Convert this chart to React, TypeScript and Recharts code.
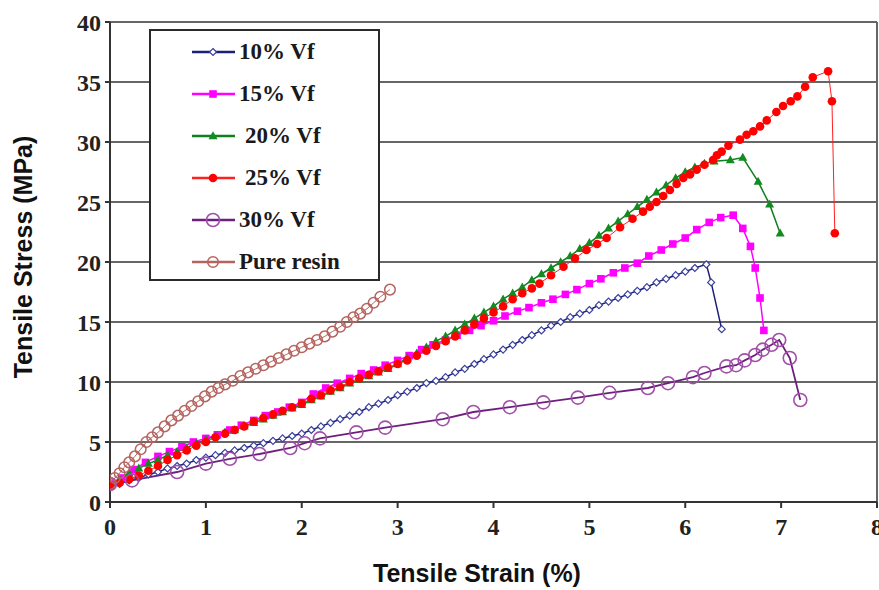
import React from "react"
import { LineChart, Line, XAxis, YAxis, CartesianGrid, Legend, ReferenceLine, Label } from "recharts"

// strain (%) , stress (MPa) pairs
const vf10 = [
  [0, 1.3], [0.1, 1.5], [0.2, 1.8], [0.3, 2.0], [0.4, 2.3], [0.5, 2.5], [0.6, 2.8], [0.7, 3.0],
  [0.8, 3.2], [0.9, 3.5], [1.0, 3.7], [1.1, 3.9], [1.2, 4.1], [1.3, 4.3], [1.4, 4.5], [1.5, 4.7],
  [1.6, 4.9], [1.7, 5.1], [1.8, 5.3], [1.9, 5.5], [2.0, 5.7], [2.1, 6.0], [2.2, 6.3], [2.3, 6.6],
  [2.4, 6.9], [2.5, 7.2], [2.6, 7.5], [2.7, 7.9], [2.8, 8.2], [2.9, 8.5], [3.0, 8.9], [3.1, 9.2],
  [3.2, 9.5], [3.3, 9.9], [3.4, 10.1], [3.5, 10.4], [3.6, 10.8], [3.7, 11.1], [3.8, 11.5],
  [3.9, 11.9], [4.0, 12.3], [4.1, 12.7], [4.2, 13.1], [4.3, 13.5], [4.4, 13.9], [4.5, 14.3],
  [4.6, 14.7], [4.7, 15.0], [4.8, 15.4], [4.9, 15.7], [5.0, 16.0], [5.1, 16.4], [5.2, 16.7],
  [5.3, 17.0], [5.4, 17.3], [5.5, 17.6], [5.6, 17.9], [5.7, 18.3], [5.8, 18.6], [5.9, 18.9],
  [6.0, 19.2], [6.1, 19.5], [6.22, 19.8], [6.27, 18.3], [6.38, 14.4],
]

const vf15 = [
  [0, 1.5], [0.12, 2.0], [0.25, 2.7], [0.37, 3.3], [0.5, 3.8], [0.62, 4.2], [0.75, 4.6], [0.87, 5.0],
  [1.0, 5.3], [1.12, 5.6], [1.25, 6.0], [1.37, 6.4], [1.5, 6.8], [1.62, 7.2], [1.75, 7.5], [1.87, 7.9],
  [2.0, 8.3], [2.12, 9.0], [2.25, 9.5], [2.37, 9.9], [2.5, 10.3], [2.62, 10.7], [2.75, 11.0],
  [2.87, 11.4], [3.0, 11.8], [3.12, 12.2], [3.25, 12.7], [3.37, 13.1], [3.5, 13.5], [3.62, 13.9],
  [3.75, 14.3], [3.87, 14.7], [4.0, 15.1], [4.12, 15.5], [4.25, 15.9], [4.37, 16.2], [4.5, 16.6],
  [4.62, 16.9], [4.75, 17.3], [4.87, 17.7], [5.0, 18.2], [5.12, 18.6], [5.25, 19.1], [5.37, 19.5],
  [5.5, 19.9], [5.62, 20.5], [5.75, 21.0], [5.87, 21.5], [6.0, 22.0], [6.12, 22.7], [6.25, 23.3],
  [6.37, 23.7], [6.5, 23.9], [6.6, 22.8], [6.68, 21.3], [6.73, 19.5], [6.78, 17.0], [6.82, 14.3],
]

const vf20 = [
  [0, 1.4], [0.1, 1.9], [0.2, 2.4], [0.3, 2.8], [0.4, 3.2], [0.5, 3.5], [0.6, 3.9], [0.7, 4.2],
  [0.8, 4.5], [0.9, 4.9], [1.0, 5.2], [1.1, 5.5], [1.2, 5.8], [1.3, 6.0], [1.4, 6.3], [1.5, 6.6],
  [1.6, 6.9], [1.7, 7.2], [1.8, 7.5], [1.9, 7.8], [2.0, 8.1], [2.1, 8.5], [2.2, 8.8], [2.3, 9.2],
  [2.4, 9.5], [2.5, 9.9], [2.6, 10.2], [2.7, 10.5], [2.8, 10.8], [2.9, 11.1], [3.0, 11.5],
  [3.1, 12.0], [3.2, 12.4], [3.3, 12.9], [3.4, 13.4], [3.5, 13.8], [3.6, 14.3], [3.7, 14.8],
  [3.8, 15.3], [3.9, 15.8], [4.0, 16.3], [4.1, 16.9], [4.2, 17.4], [4.3, 17.9], [4.4, 18.5],
  [4.5, 19.0], [4.6, 19.5], [4.7, 20.0], [4.8, 20.5], [4.9, 21.1], [5.0, 21.6], [5.1, 22.2],
  [5.2, 22.8], [5.3, 23.4], [5.4, 24.0], [5.5, 24.6], [5.6, 25.2], [5.7, 25.8], [5.8, 26.4],
  [5.9, 27.0], [6.0, 27.5], [6.1, 27.9], [6.2, 28.2], [6.3, 28.4], [6.47, 28.5], [6.6, 28.7],
  [6.76, 26.7], [6.88, 24.8], [6.99, 22.4],
]

const vf25 = [
  [0, 1.3], [0.1, 1.6], [0.2, 1.9], [0.3, 2.2], [0.4, 2.6], [0.5, 3.0], [0.6, 3.5], [0.7, 3.9],
  [0.8, 4.3], [0.9, 4.7], [1.0, 5.0], [1.1, 5.4], [1.2, 5.7], [1.3, 6.0], [1.4, 6.3], [1.5, 6.7],
  [1.6, 7.0], [1.7, 7.3], [1.8, 7.6], [1.9, 7.9], [2.0, 8.2], [2.1, 8.6], [2.2, 8.9], [2.3, 9.3],
  [2.4, 9.6], [2.5, 10.0], [2.6, 10.3], [2.7, 10.6], [2.8, 10.9], [2.9, 11.2], [3.0, 11.5],
  [3.1, 11.8], [3.2, 12.2], [3.3, 12.6], [3.4, 13.0], [3.5, 13.4], [3.6, 13.8], [3.7, 14.3],
  [3.8, 14.8], [3.9, 15.3], [4.0, 15.8], [4.1, 16.3], [4.2, 16.9], [4.3, 17.4], [4.4, 17.8],
  [4.48, 18.2], [4.6, 18.9], [4.73, 19.6], [4.85, 20.3], [4.97, 21.0], [5.08, 21.5], [5.18, 22.0],
  [5.32, 22.9], [5.45, 23.6], [5.56, 24.2], [5.63, 24.6], [5.7, 25.0], [5.77, 25.5], [5.84, 26.0],
  [5.91, 26.5], [5.98, 27.0], [6.05, 27.3], [6.12, 27.7], [6.2, 28.1], [6.29, 28.5], [6.33, 28.9],
  [6.38, 29.2], [6.45, 29.7], [6.57, 30.2], [6.64, 30.6], [6.71, 30.9], [6.78, 31.3], [6.85, 31.8],
  [6.95, 32.5], [7.02, 33.0], [7.1, 33.4], [7.17, 33.8], [7.25, 34.6], [7.33, 35.4], [7.49, 35.9],
  [7.53, 33.4], [7.56, 22.4],
]

const vf30 = [
  [0, 1.5], [0.23, 1.8], [0.7, 2.5], [1.0, 3.2], [1.25, 3.6], [1.56, 4.0], [1.88, 4.5], [2.03, 4.9],
  [2.19, 5.3], [2.57, 5.8], [2.87, 6.2], [3.47, 6.9], [3.79, 7.5], [4.17, 7.9], [4.52, 8.3],
  [4.88, 8.7], [5.21, 9.1], [5.61, 9.5], [5.82, 9.9], [6.08, 10.4], [6.2, 10.75], [6.43, 11.3],
  [6.53, 11.4], [6.62, 11.8], [6.73, 12.25], [6.81, 12.7], [6.9, 13.1], [6.98, 13.5], [7.09, 12.0],
  [7.2, 8.5],
]

const pureResin = [
  [0, 1.5], [0.05, 2.0], [0.1, 2.4], [0.15, 2.9], [0.2, 3.3], [0.26, 3.8], [0.32, 4.4], [0.38, 5.0],
  [0.44, 5.4], [0.5, 5.8], [0.57, 6.3], [0.64, 6.8], [0.71, 7.2], [0.78, 7.6], [0.85, 8.0],
  [0.92, 8.4], [0.99, 8.8], [1.06, 9.2], [1.13, 9.5], [1.2, 9.8], [1.28, 10.1], [1.36, 10.5],
  [1.44, 10.8], [1.52, 11.1], [1.6, 11.4], [1.68, 11.7], [1.76, 12.0], [1.84, 12.3], [1.92, 12.6],
  [2.0, 12.9], [2.08, 13.2], [2.16, 13.5], [2.24, 13.8], [2.32, 14.2], [2.4, 14.6], [2.47, 15.0],
  [2.54, 15.4], [2.61, 15.7], [2.68, 16.1], [2.75, 16.6], [2.82, 17.1], [2.92, 17.7],
]

const xTicks = [0, 1, 2, 3, 4, 5, 6, 7, 8]
const yTicks = [0, 5, 10, 15, 20, 25, 30, 35, 40]

const toPts = (rows: number[][]) => rows.map(([x, y]) => ({ x, y }))

type Shape = "diamond" | "square" | "triangle" | "dot" | "ring" | "smallRing"

const series: { name: string; rows: number[][]; color: string; mark: string; shape: Shape; width: number }[] = [
  { name: "10% Vf", rows: vf10, color: "#1b1f78", mark: "#3a3f9e", shape: "diamond", width: 1.5 },
  { name: "15% Vf", rows: vf15, color: "#ff00ff", mark: "#ff00ff", shape: "square", width: 1.5 },
  { name: "20% Vf", rows: vf20, color: "#0f7f1f", mark: "#138a22", shape: "triangle", width: 1.5 },
  { name: "25% Vf", rows: vf25, color: "#ff2020", mark: "#ff0000", shape: "dot", width: 1 },
  { name: "30% Vf", rows: vf30, color: "#6e1f7e", mark: "#a050a8", shape: "ring", width: 1.8 },
  { name: "Pure resin", rows: pureResin, color: "#b5635e", mark: "#b5635e", shape: "smallRing", width: 1 },
]

const serif = "'Times New Roman', 'Liberation Serif', Times, serif"
const sans = "Arial, 'Liberation Sans', Helvetica, sans-serif"

function Marker({ cx, cy, shape, color }: { cx: number; cy: number; shape: Shape; color: string }) {
  if (cx == null || cy == null) return null
  switch (shape) {
    case "diamond":
      return (
        <path
          d={`M${cx},${cy - 3.5}L${cx + 3.5},${cy}L${cx},${cy + 3.5}L${cx - 3.5},${cy}Z`}
          fill="#fff"
          stroke={color}
          strokeWidth={1.2}
        />
      )
    case "square":
      return <rect x={cx - 3.8} y={cy - 3.8} width={7.6} height={7.6} fill={color} />
    case "triangle":
      return <path d={`M${cx},${cy - 4.8}L${cx + 4.5},${cy + 3.2}L${cx - 4.5},${cy + 3.2}Z`} fill={color} />
    case "dot":
      return <circle cx={cx} cy={cy} r={4.3} fill={color} />
    case "ring":
      return <circle cx={cx} cy={cy} r={6.5} fill="none" stroke={color} strokeWidth={1.6} />
    default:
      return <circle cx={cx} cy={cy} r={5.3} fill="none" stroke={color} strokeWidth={1.5} />
  }
}

function LegendBox() {
  return (
    <div
      style={{
        width: 227,
        height: 248,
        border: "2px solid #2a2a2a",
        background: "#fff",
        fontFamily: serif,
        fontWeight: "bold",
        fontSize: 23,
        color: "#1a1a1a",
      }}
    >
      {series.map((s) => (
        <div key={s.name} style={{ height: 42, display: "flex", alignItems: "center" }}>
          <svg width={88} height={20} style={{ flex: "none" }}>
            <line x1={41} y1={10} x2={84} y2={10} stroke={s.color} strokeWidth={2.5} />
            <Marker cx={62} cy={10} shape={s.shape} color={s.mark} />
          </svg>
          <span style={{ marginLeft: s.name === "20% Vf" || s.name === "25% Vf" ? 6 : 0 }}>{s.name}</span>
        </div>
      ))}
    </div>
  )
}

const tickStyle = {
  fill: "#222",
  fontFamily: serif,
  fontSize: 24,
  fontWeight: "bold",
}

export default function App() {
  return (
    <div style={{ width: 879, height: 590, background: "#fff", position: "relative" }}>
      <style>{`body{margin:0}`}</style>
      <LineChart width={879} height={590} margin={{ top: 22, right: 2, left: 50, bottom: 58 }}>
        <CartesianGrid vertical={false} stroke="#666" strokeWidth={2} />
        <XAxis
          type="number"
          dataKey="x"
          domain={[0, 8]}
          ticks={xTicks}
          interval={0}
          height={30}
          tick={tickStyle}
          tickSize={6}
          tickMargin={10}
          axisLine={{ stroke: "#333", strokeWidth: 2 }}
          tickLine={{ stroke: "#333", strokeWidth: 2 }}
          allowDataOverflow
        >
          <Label
            content={() => (
              <text x={477} y={582} textAnchor="middle" fontFamily={sans} fontWeight="bold" fontSize={25} fill="#111">
                Tensile Strain (%)
              </text>
            )}
          />
        </XAxis>
        <YAxis
          type="number"
          domain={[0, 40]}
          ticks={yTicks}
          interval={0}
          width={60}
          tick={tickStyle}
          tickSize={5}
          tickMargin={4}
          axisLine={{ stroke: "#333", strokeWidth: 2 }}
          tickLine={{ stroke: "#333", strokeWidth: 2 }}
        >
          <Label
            content={() => (
              <text
                x={32}
                y={257}
                transform="rotate(-90 32 257)"
                textAnchor="middle"
                fontFamily={sans}
                fontWeight="bold"
                fontSize={25}
                fill="#111"
              >
                Tensile Stress (MPa)
              </text>
            )}
          />
        </YAxis>
        <ReferenceLine x={8} stroke="#666" strokeWidth={2} />
        <Legend
          layout="vertical"
          align="center"
          verticalAlign="middle"
          wrapperStyle={{ left: 149, top: 29, width: 231, height: 252 }}
          content={() => <LegendBox />}
        />
        {series.map((s) => (
          <Line
            key={s.name}
            name={s.name}
            data={toPts(s.rows)}
            dataKey="y"
            type="linear"
            stroke={s.color}
            strokeWidth={s.width}
            isAnimationActive={false}
            activeDot={false}
            dot={(p: any) => (
              <Marker key={`${s.name}-${p.index}`} cx={p.cx} cy={p.cy} shape={s.shape} color={s.mark} />
            )}
          />
        ))}
      </LineChart>
    </div>
  )
}
